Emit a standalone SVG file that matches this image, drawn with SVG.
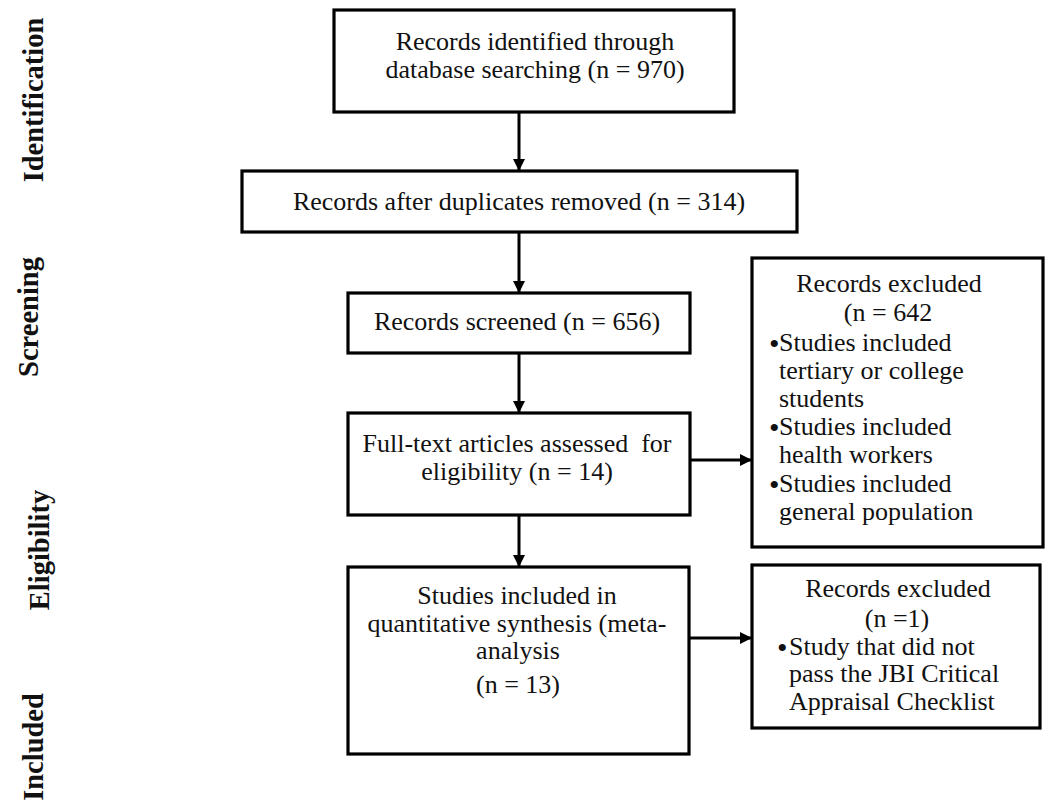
<svg xmlns="http://www.w3.org/2000/svg" width="1047" height="801" viewBox="0 0 1047 801">
<defs>
<style>
.box{fill:#fff;stroke:#000;stroke-width:3.2}
.t{font-family:"Liberation Serif","Times New Roman",serif;font-size:26px;fill:#111}
.c{text-anchor:middle}
.b{font-family:"Liberation Serif","Times New Roman",serif;font-size:30px;fill:#111}
.side{font-family:"Liberation Serif","Times New Roman",serif;font-size:28.5px;font-weight:bold;fill:#111;text-anchor:middle}
.ln{stroke:#000;stroke-width:3;fill:none}
</style>
<marker id="ah" markerWidth="12" markerHeight="12" viewBox="0 0 12 12" refX="12" refY="6" orient="auto" markerUnits="userSpaceOnUse">
<path d="M0,0 L12,6 L0,12 Z" fill="#000"/>
</marker>
</defs>
<rect width="1047" height="801" fill="#fff"/>

<g id="labels">
<text class="side" transform="translate(43,100) rotate(-90)">Identification</text>
<text class="side" transform="translate(38,317) rotate(-90)">Screening</text>
<text class="side" transform="translate(49,550) rotate(-90)">Eligibility</text>
<text class="side" transform="translate(43,747) rotate(-90)">Included</text>
</g>

<g id="connectors">
<line class="ln" x1="519" y1="112" x2="519" y2="171" marker-end="url(#ah)"/>
<line class="ln" x1="519" y1="232" x2="519" y2="293" marker-end="url(#ah)"/>
<line class="ln" x1="519" y1="353" x2="519" y2="413" marker-end="url(#ah)"/>
<line class="ln" x1="519" y1="515" x2="519" y2="567" marker-end="url(#ah)"/>
<line class="ln" x1="690" y1="460" x2="752" y2="460" marker-end="url(#ah)"/>
<line class="ln" x1="689" y1="638" x2="752" y2="638" marker-end="url(#ah)"/>
</g>

<g id="identified">
<rect class="box" x="334" y="10" width="400" height="102"/>
<text class="t c" x="535" y="50">Records identified through</text>
<text class="t c" x="535" y="78">database searching (n = 970)</text>
</g>

<g id="duplicates">
<rect class="box" x="242" y="171" width="555" height="61"/>
<text class="t c" x="519" y="210">Records after duplicates removed (n = 314)</text>
</g>

<g id="screened">
<rect class="box" x="348" y="293" width="342" height="60"/>
<text class="t c" x="517" y="330">Records screened (n = 656)</text>
</g>

<g id="fulltext">
<rect class="box" x="348" y="413" width="342" height="102"/>
<text class="t c" x="517" y="452" xml:space="preserve">Full-text articles assessed  for</text>
<text class="t c" x="517" y="480">eligibility (n = 14)</text>
</g>

<g id="included">
<rect class="box" x="348" y="567" width="341" height="187"/>
<text class="t c" x="517" y="604">Studies included in</text>
<text class="t c" x="517" y="632">quantitative synthesis (meta-</text>
<text class="t c" x="518" y="659">analysis</text>
<text class="t c" x="518" y="693">(n = 13)</text>
</g>

<g id="excluded1">
<rect class="box" x="752" y="258" width="291" height="289"/>
<text class="t c" x="889" y="292">Records excluded</text>
<text class="t c" x="888" y="321">(n = 642</text>
<text class="b" x="769" y="354">•</text>
<text class="t" x="779" y="351">Studies included</text>
<text class="t" x="779" y="379">tertiary or college</text>
<text class="t" x="779" y="407">students</text>
<text class="b" x="769" y="438">•</text>
<text class="t" x="779" y="435">Studies included</text>
<text class="t" x="779" y="463">health workers</text>
<text class="b" x="769" y="495">•</text>
<text class="t" x="779" y="492">Studies included</text>
<text class="t" x="779" y="520">general population</text>
</g>

<g id="excluded2">
<rect class="box" x="752" y="565" width="288" height="163"/>
<text class="t c" x="898" y="597">Records excluded</text>
<text class="t c" x="897" y="627">(n =1)</text>
<text class="b" x="777" y="658">•</text>
<text class="t" x="789" y="655">Study that did not</text>
<text class="t" x="789" y="682">pass the JBI Critical</text>
<text class="t" x="789" y="710">Appraisal Checklist</text>
</g>
</svg>
